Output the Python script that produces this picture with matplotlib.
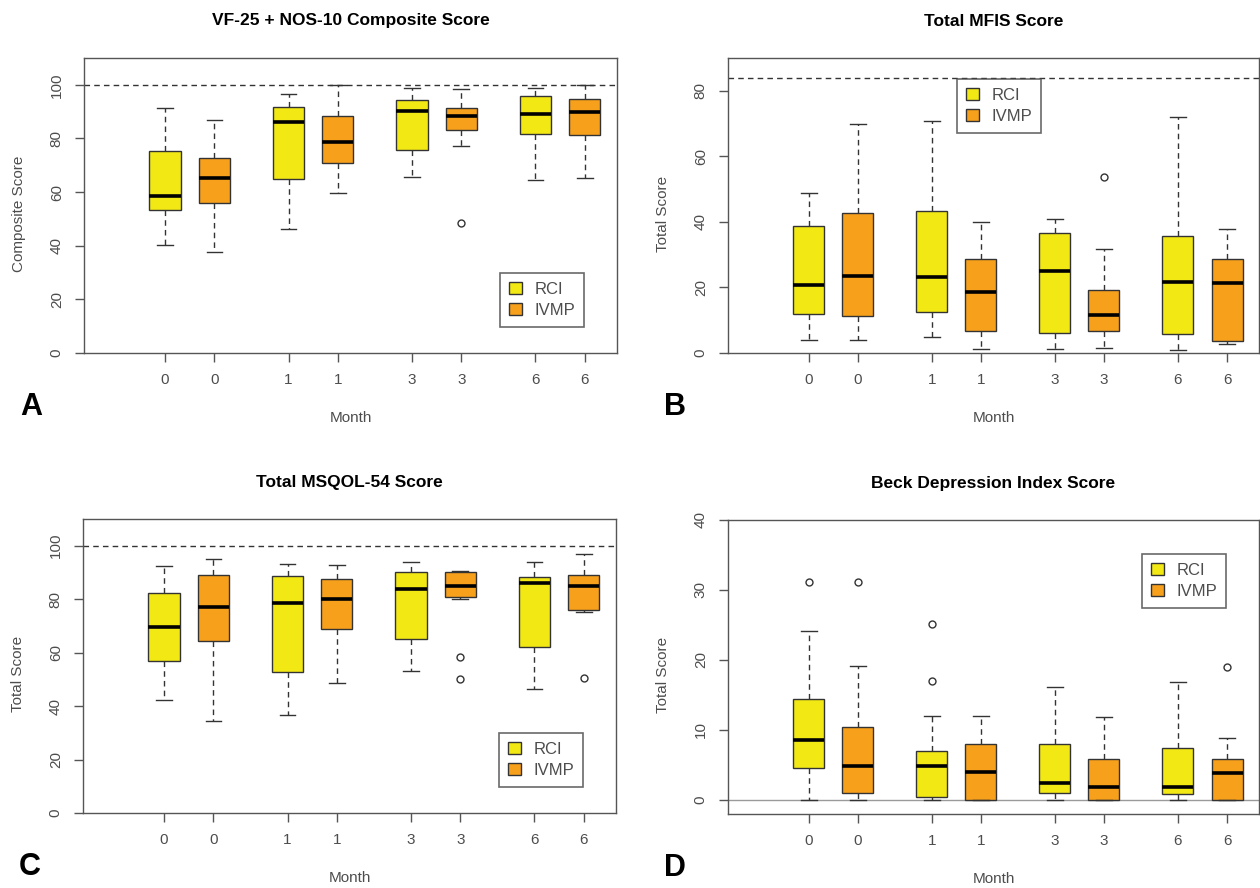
import matplotlib
matplotlib.use('Agg')
import matplotlib.pyplot as plt
from matplotlib.patches import Patch

plt.rcParams['font.family'] = ['Liberation Sans', 'DejaVu Sans']

# month labels, one per box (RCI, IVMP alternating)
months = ['0', '0', '1', '1', '3', '3', '6', '6']
groups = ['RCI', 'IVMP']
colors = ['#F2E814', '#F7A01C']

# A: VF-25 + NOS-10 composite
a_lo = [40.3, 37.8, 46.1, 59.5, 65.8, 77.1, 64.5, 65.2]
a_q1 = [53.2, 55.9, 64.7, 70.8, 75.6, 83.0, 81.7, 81.4]
a_med = [58.7, 65.2, 86.0, 78.8, 90.3, 88.4, 89.0, 90.0]
a_q3 = [75.2, 72.7, 91.8, 88.5, 94.4, 91.4, 95.8, 94.8]
a_hi = [91.4, 86.7, 96.4, 100.0, 98.9, 98.5, 98.9, 99.8]
a_out = [[], [], [], [], [], [48.3], [], []]

# B: MFIS
b_lo = [4.1, 4.1, 4.9, 1.1, 1.1, 1.6, 0.8, 2.8]
b_q1 = [12.0, 11.2, 12.6, 6.7, 6.2, 6.6, 5.8, 3.8]
b_med = [20.6, 23.4, 23.2, 18.5, 25.0, 11.7, 21.6, 21.3]
b_q3 = [38.8, 42.8, 43.3, 28.8, 36.7, 19.1, 35.7, 28.8]
b_hi = [48.9, 70.0, 70.8, 40.0, 40.8, 31.6, 71.9, 37.8]
b_out = [[], [], [], [], [], [53.7], [], []]

# C: MSQOL-54
c_lo = [42.3, 34.5, 36.7, 48.5, 53.1, 80.1, 46.3, 75.1]
c_q1 = [56.7, 64.3, 52.7, 69.0, 65.1, 81.0, 62.2, 75.8]
c_med = [69.7, 76.9, 78.4, 80.1, 83.7, 84.9, 85.9, 84.9]
c_q3 = [82.3, 89.1, 88.7, 87.6, 90.1, 90.1, 88.3, 89.1]
c_hi = [92.3, 95.2, 93.2, 92.7, 94.0, 90.4, 93.8, 97.0]
c_out = [[], [], [], [], [], [58.3, 50.2], [], [50.6]]

# D: Beck depression index
d_lo = [0.0, 0.0, 0.0, 0.0, 0.0, 0.0, 0.0, 0.0]
d_q1 = [4.6, 0.95, 0.5, 0.0, 1.0, 0.0, 0.9, 0.0]
d_med = [8.6, 4.9, 4.9, 4.0, 2.5, 1.9, 1.9, 3.9]
d_q3 = [14.5, 10.5, 7.0, 8.0, 8.0, 5.8, 7.4, 5.8]
d_hi = [24.1, 19.1, 12.0, 12.0, 16.1, 11.9, 16.9, 8.9]
d_out = [[31.2], [31.2], [25.1, 17.0], [], [], [], [], [19.0]]

W, H = 1260, 888
fig = plt.figure(figsize=(W / 100, H / 100), dpi=100)
GRAY = '#4d4d4d'


def rect(l, t, r, b):
    return [l / W, 1 - b / H, (r - l) / W, (b - t) / H]


def ftext(x, y, s, **kw):
    fig.text(x / W, 1 - y / H, s, ha='center', va='center', **kw)


def panel(box, title, ylabel, lo, q1, med, q3, hi, out, ylim, yticks, ref,
          letter, leg, zero_line=False):
    l, t, r, b = box
    ax = fig.add_axes(rect(l, t, r, b))
    pos = [1, 2, 3.5, 4.5, 6, 7, 8.5, 9.5]
    stats = [dict(whislo=lo[i], q1=q1[i], med=med[i], q3=q3[i], whishi=hi[i],
                  fliers=out[i]) for i in range(len(months))]
    if zero_line:
        ax.axhline(0, color='#9a9a9a', lw=1, zorder=0)
    if ref is not None:
        ax.axhline(ref, color='#333333', lw=1, ls=(0, (4, 3)), zorder=0)
    art = ax.bxp(stats, positions=pos, widths=0.63, capwidths=0.32,
                 patch_artist=True,
                 boxprops=dict(edgecolor='#333333', lw=1),
                 whiskerprops=dict(color='#333333', lw=1, ls=(0, (4, 3))),
                 capprops=dict(color='#333333', lw=1),
                 medianprops=dict(color='black', lw=2.6, solid_capstyle='butt'),
                 flierprops=dict(marker='o', mfc='none', mec='#333333', ms=5, mew=1))
    for i, bx in enumerate(art['boxes']):
        bx.set_facecolor(colors[i % 2])
    ax.set_xlim(-0.64, 10.15)
    ax.set_ylim(*ylim)
    ax.set_xticks(pos)
    ax.set_xticklabels(months)
    ax.set_yticks(yticks)
    ax.set_yticklabels([str(v) for v in yticks], rotation=90, va='center')
    ax.tick_params(length=6.5, width=1, color='#555555', labelcolor=GRAY,
                   labelsize=11, pad=8)
    for sp in ax.spines.values():
        sp.set_color('#555555')
        sp.set_linewidth(1)
    handles = [Patch(facecolor=colors[k], edgecolor='#333333', lw=1)
               for k in range(2)]
    lg = ax.legend(handles, groups, loc='upper left',
                   bbox_to_anchor=(leg[0] / W, 1 - leg[1] / H),
                   bbox_transform=fig.transFigure, fancybox=False,
                   edgecolor='#444444', fontsize=12, handlelength=0.75,
                   handleheight=0.75, handletextpad=0.75, borderpad=0.55,
                   labelspacing=0.35, borderaxespad=0)
    lg.get_frame().set_linewidth(1.2)
    for tx in lg.get_texts():
        tx.set_color(GRAY)
    cx = (l + r) / 2
    ftext(cx, t - 37, title, fontsize=12.5, fontweight='bold')
    ftext(cx, b + 65, 'Month', fontsize=11, color=GRAY)
    ftext(l - 65, (t + b) / 2 + 8, ylabel, fontsize=11, color=GRAY, rotation=90)
    ftext(l - 53, b + 54, letter, fontsize=22, fontweight='bold')
    return ax


panel((84, 58, 617, 353), 'VF-25 + NOS-10 Composite Score', 'Composite Score',
      a_lo, a_q1, a_med, a_q3, a_hi, a_out, (0, 110), [0, 20, 40, 60, 80, 100],
      100, 'A', (500, 273))
panel((728, 58, 1259, 353), 'Total MFIS Score', 'Total Score',
      b_lo, b_q1, b_med, b_q3, b_hi, b_out, (0, 90), [0, 20, 40, 60, 80],
      84, 'B', (957, 79))
panel((83, 519, 616, 813), 'Total MSQOL-54 Score', 'Total Score',
      c_lo, c_q1, c_med, c_q3, c_hi, c_out, (0, 110), [0, 20, 40, 60, 80, 100],
      100, 'C', (499, 733))
panel((728, 520, 1259, 814), 'Beck Depression Index Score', 'Total Score',
      d_lo, d_q1, d_med, d_q3, d_hi, d_out, (-2, 40), [0, 10, 20, 30, 40],
      None, 'D', (1142, 554), zero_line=True)

fig.savefig('out.png', dpi=100)
